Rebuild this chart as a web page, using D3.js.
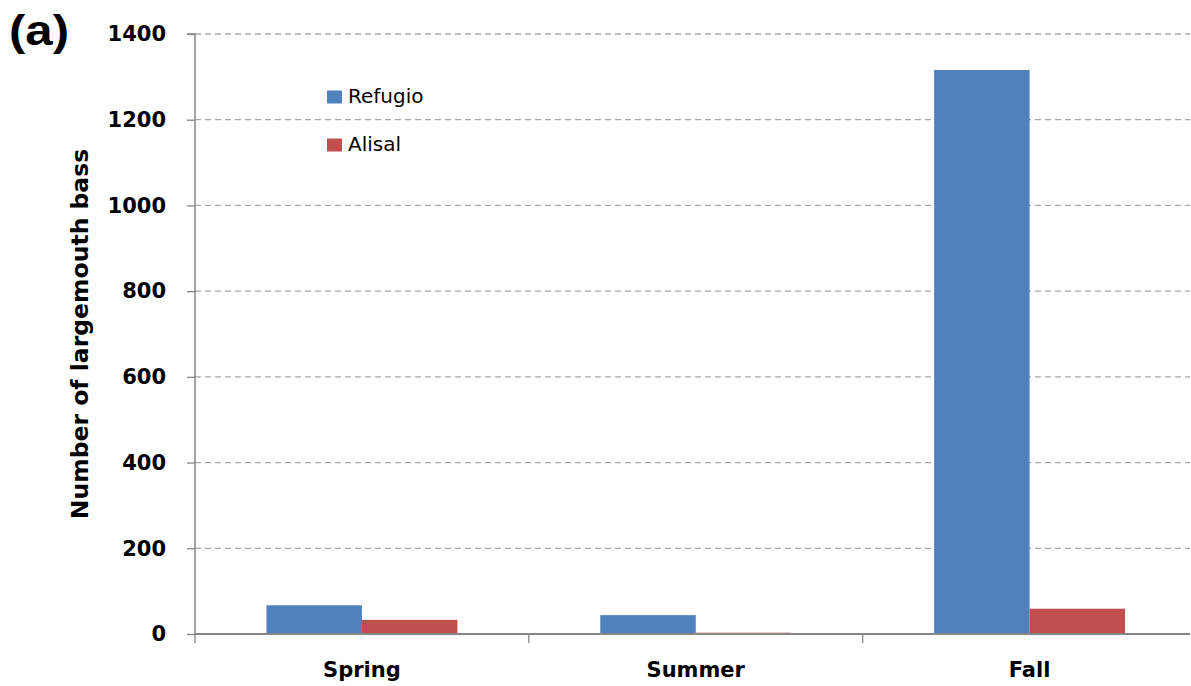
<!DOCTYPE html>
<html>
<head>
<meta charset="utf-8">
<script src="https://cdn.jsdelivr.net/npm/d3@7"></script>
<style>
body{margin:0;background:#fff;}
svg{display:block;font-family:"DejaVu Sans",sans-serif;}
</style>
</head>
<body>
<svg id="chart" width="1191" height="686"></svg>
<script>
const categories = ["Spring", "Summer", "Fall"];
const seriesNames = ["Refugio", "Alisal"];
const refugio = [67, 44, 1316];
const alisal = [33, 3, 59];
const yTicks = [0, 200, 400, 600, 800, 1000, 1200, 1400];
const colors = ["#4F81BD", "#C0504D"];

(function () {
const values = [refugio, alisal];
const svg = d3.select("#chart");
const pL = 195, pR = 1196.5, pT = 34, pB = 634, visR = 1190;

const y = d3.scaleLinear().domain([0, 1400]).range([pB, pT]);
const x0 = d3.scaleBand().domain(categories).range([pL, pR]).padding(0);
const bw = x0.bandwidth();
const x1 = d3.scaleBand().domain(seriesNames).range([bw * 0.214, bw * 0.786]).padding(0);

// gridlines
svg.append("g").selectAll("line").data(yTicks.filter(d => d > 0)).join("line")
  .attr("x1", pL).attr("x2", visR)
  .attr("y1", d => y(d)).attr("y2", d => y(d))
  .attr("stroke", "#a6a6a6").attr("stroke-width", 1.3)
  .attr("stroke-dasharray", "6,4");

// bars
const data = [];
categories.forEach((c, i) => seriesNames.forEach((s, j) => data.push({c, s, v: values[j][i], j})));
svg.append("g").selectAll("rect").data(data).join("rect")
  .attr("x", d => x0(d.c) + x1(d.s))
  .attr("width", x1.bandwidth())
  .attr("y", d => y(d.v))
  .attr("height", d => y(0) - y(d.v))
  .attr("fill", d => colors[d.j]);

// y axis
const yAxis = d3.axisLeft(y).tickValues(yTicks).tickSize(8).tickPadding(21).tickFormat(d3.format("d"));
const gy = svg.append("g").attr("transform", `translate(${pL},0)`).call(yAxis);
gy.select(".domain").attr("stroke", "#868686").attr("stroke-width", 1.5).attr("d", `M-8,${pT}H0V${pB}`);
gy.selectAll(".tick line").attr("stroke", "#868686").attr("stroke-width", 1.3);
gy.selectAll(".tick text").attr("font-family", "DejaVu Sans").attr("font-weight", "bold")
  .attr("font-size", 21).attr("fill", "#000");

// x axis
const gx = svg.append("g").attr("transform", `translate(0,${pB})`);
gx.append("line").attr("x1", pL).attr("x2", visR).attr("y1", 0).attr("y2", 0)
  .attr("stroke", "#868686").attr("stroke-width", 2);
const bounds = categories.map(c => x0(c));
gx.selectAll(".tk").data(bounds).join("line").attr("class", "tk")
  .attr("x1", d => d).attr("x2", d => d).attr("y1", 0).attr("y2", 9)
  .attr("stroke", "#868686").attr("stroke-width", 1.3);
gx.selectAll("text").data(categories).join("text")
  .attr("x", d => x0(d) + bw / 2).attr("y", 43)
  .attr("text-anchor", "middle").attr("font-weight", "bold").attr("font-size", 21)
  .text(d => d);

// y axis title
svg.append("text")
  .attr("transform", `translate(88,334) rotate(-90)`)
  .attr("text-anchor", "middle").attr("font-weight", "bold").attr("font-size", 23.5)
  .text("Number of largemouth bass");

// panel label
svg.append("text").attr("transform", "translate(9,45) scale(1.17,1)").attr("font-family", "Liberation Sans")
  .attr("font-weight", "bold").attr("font-size", 42).text("(a)");

// legend
const lg = svg.append("g");
seriesNames.forEach((s, i) => {
  const yy = 103 + i * 48;
  lg.append("rect").attr("x", 327).attr("y", yy - 12.5).attr("width", 15).attr("height", 13).attr("fill", colors[i]);
  lg.append("text").attr("x", 348).attr("y", yy).attr("font-size", 20).text(s);
});
})();
</script>
</body>
</html>
